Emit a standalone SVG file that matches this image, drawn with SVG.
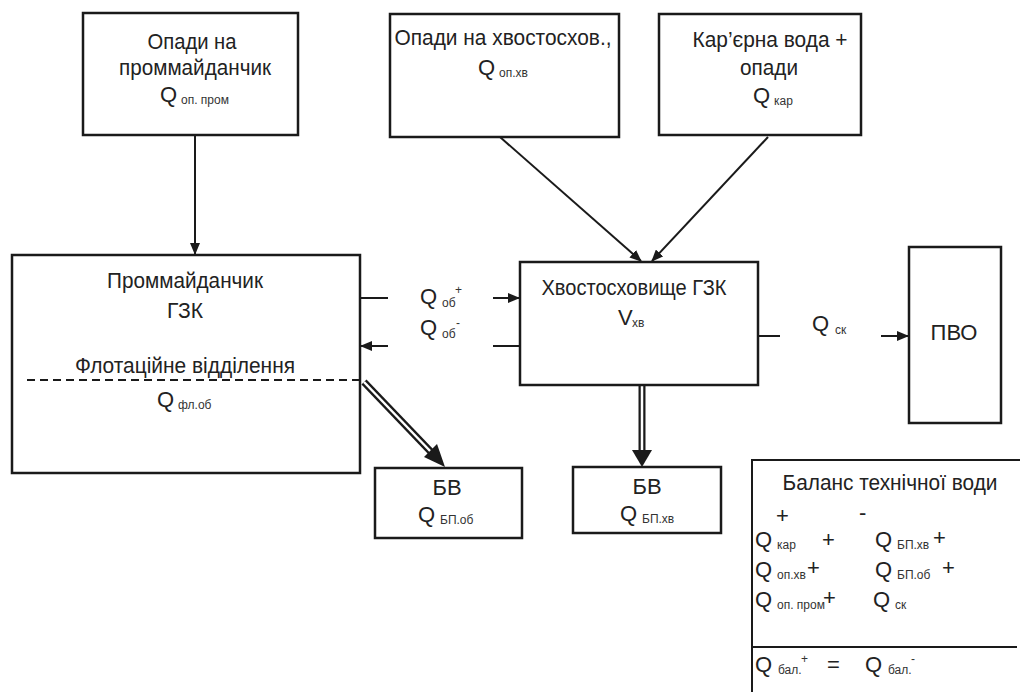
<svg xmlns="http://www.w3.org/2000/svg" width="1020" height="692" viewBox="0 0 1020 692">
<style>
.box{fill:#fff;stroke:#1a1a1a;stroke-width:2.5}
.t{font-family:"Liberation Sans",Arial,sans-serif;font-size:22px;fill:#222}
.m{text-anchor:middle}
.s{font-family:"Liberation Sans",Arial,sans-serif;font-size:12px;fill:#333}
.ln{stroke:#1a1a1a;stroke-width:2;fill:none}
.dbl-o{stroke:#1a1a1a;stroke-width:7;fill:none}
.dbl-i{stroke:#fff;stroke-width:2.5;fill:none}
</style>
<defs>
<marker id="ah" viewBox="0 0 12 10" refX="11" refY="5" markerWidth="12" markerHeight="10" markerUnits="userSpaceOnUse" orient="auto">
<path d="M0,0 L12,5 L0,10 Z" fill="#1a1a1a"/>
</marker>
</defs>
<rect width="1020" height="692" fill="#fff"/>

<g id="connectors">
<line class="ln" x1="195" y1="135" x2="195" y2="254" marker-end="url(#ah)"/>
<line class="ln" x1="500" y1="137" x2="641" y2="261" marker-end="url(#ah)"/>
<line class="ln" x1="768" y1="137" x2="652" y2="261" marker-end="url(#ah)"/>
<line class="ln" x1="360" y1="298" x2="388" y2="298"/>
<line class="ln" x1="493" y1="298" x2="519" y2="298" marker-end="url(#ah)"/>
<line class="ln" x1="520" y1="346" x2="493" y2="346"/>
<line class="ln" x1="388" y1="346" x2="361" y2="346" marker-end="url(#ah)"/>
<line class="ln" x1="758" y1="336" x2="780" y2="336"/>
<line class="ln" x1="881" y1="336" x2="908" y2="336" marker-end="url(#ah)"/>
<line class="dbl-o" x1="364" y1="382" x2="432" y2="453"/>
<line class="dbl-i" x1="364" y1="382" x2="432" y2="453"/>
<path d="M445,467 L424,457 L437,444 Z" fill="#1a1a1a"/>
<line class="dbl-o" x1="642" y1="386" x2="642" y2="452"/>
<line class="dbl-i" x1="642" y1="386" x2="642" y2="452"/>
<path d="M642,467 L632,450 L652,450 Z" fill="#1a1a1a"/>
<text class="t" x="420" y="304">Q</text><text class="s" x="442" y="307">об</text><text class="s" x="455" y="294">+</text>
<text class="t" x="420" y="335">Q</text><text class="s" x="442" y="338">об</text><text class="s" x="456" y="327">-</text>
<text class="t" x="812" y="331">Q</text><text class="s" x="835" y="334">ск</text>
</g>

<g id="n-opady-prom">
<rect class="box" x="83" y="13" width="215" height="122"/>
<text class="t m" x="192" y="49" textLength="89" lengthAdjust="spacingAndGlyphs">Опади на</text>
<text class="t m" x="195" y="75" textLength="152" lengthAdjust="spacingAndGlyphs">проммайданчик</text>
<text class="t" x="160" y="102">Q</text><text class="s" x="181" y="104">оп. пром</text>
</g>

<g id="n-opady-hv">
<rect class="box" x="390" y="14" width="229" height="123"/>
<text class="t m" x="503" y="45" textLength="217" lengthAdjust="spacingAndGlyphs">Опади на хвостосхов.,</text>
<text class="t" x="478" y="75">Q</text><text class="s" x="499" y="77">оп.хв</text>
</g>

<g id="n-kar">
<rect class="box" x="659" y="14" width="202" height="121"/>
<text class="t m" x="770" y="47" textLength="155" lengthAdjust="spacingAndGlyphs">Кар’єрна вода +</text>
<text class="t m" x="769" y="75" textLength="58" lengthAdjust="spacingAndGlyphs">опади</text>
<text class="t" x="753" y="103">Q</text><text class="s" x="774" y="105">кар</text>
</g>

<g id="n-prom">
<rect class="box" x="12" y="255" width="348" height="218"/>
<text class="t m" x="185" y="288" textLength="156" lengthAdjust="spacingAndGlyphs">Проммайданчик</text>
<text class="t m" x="185" y="318" textLength="36" lengthAdjust="spacingAndGlyphs">ГЗК</text>
<text class="t m" x="185" y="373" textLength="220" lengthAdjust="spacingAndGlyphs">Флотаційне відділення</text>
<line x1="27" y1="380" x2="360" y2="380" stroke="#1a1a1a" stroke-width="2" stroke-dasharray="8,5"/>
<text class="t" x="157" y="407">Q</text><text class="s" x="178" y="409">фл.об</text>
</g>

<g id="n-hvost">
<rect class="box" x="520" y="262" width="238" height="123"/>
<text class="t m" x="634" y="295" textLength="185" lengthAdjust="spacingAndGlyphs">Хвостосховище ГЗК</text>
<text class="t" x="618" y="325">V</text><text class="s" x="632" y="327">хв</text>
</g>

<g id="n-pvo">
<rect class="box" x="909" y="247" width="92" height="176"/>
<text class="t m" x="954" y="340">ПВО</text>
</g>

<g id="n-bv1">
<rect class="box" x="375" y="468" width="147" height="70"/>
<text class="t m" x="447" y="495">БВ</text>
<text class="t" x="418" y="522">Q</text><text class="s" x="440" y="524">БП.об</text>
</g>

<g id="n-bv2">
<rect class="box" x="573" y="467" width="148" height="66"/>
<text class="t m" x="647" y="494">БВ</text>
<text class="t" x="620" y="521">Q</text><text class="s" x="642" y="523">БП.хв</text>
</g>

<g id="n-balance">
<path d="M752,692 L752,460 L1020,460" class="ln" stroke-width="2.5"/>
<text class="t m" x="890" y="490" textLength="215" lengthAdjust="spacingAndGlyphs">Баланс технічної води</text>
<text class="t" x="776" y="523">+</text>
<text class="t" x="859" y="520">-</text>
<text class="t" x="755" y="547">Q</text><text class="s" x="777" y="549">кар</text><text class="t" x="822" y="547">+</text>
<text class="t" x="875" y="547">Q</text><text class="s" x="897" y="549">БП.хв</text><text class="t" x="933" y="545">+</text>
<text class="t" x="755" y="577">Q</text><text class="s" x="777" y="579">оп.хв</text><text class="t" x="807" y="575">+</text>
<text class="t" x="875" y="577">Q</text><text class="s" x="897" y="579">БП.об</text><text class="t" x="942" y="575">+</text>
<text class="t" x="755" y="607">Q</text><text class="s" x="777" y="609">оп. пром</text><text class="t" x="823" y="605">+</text>
<text class="t" x="873" y="607">Q</text><text class="s" x="895" y="609">ск</text>
<line class="ln" x1="752" y1="647" x2="1017" y2="647" stroke-width="2.5"/>
<text class="t" x="755" y="672">Q</text><text class="s" x="778" y="674">бал.</text><text class="s" x="801" y="663">+</text>
<text class="t" x="827" y="672">=</text>
<text class="t" x="865" y="672">Q</text><text class="s" x="888" y="674">бал.</text><text class="s" x="911" y="663">-</text>
</g>
</svg>
